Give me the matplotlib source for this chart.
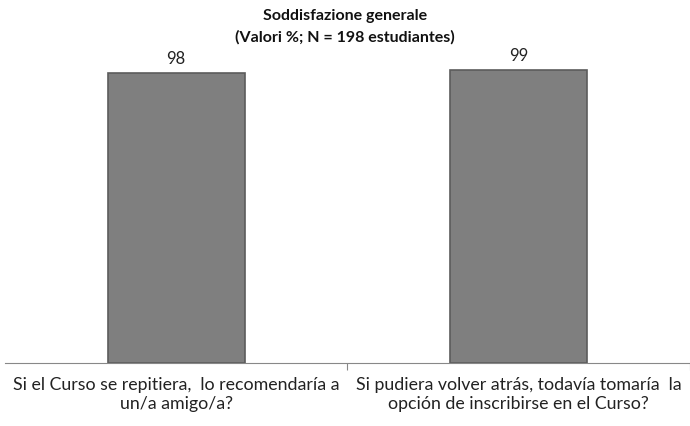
import matplotlib
matplotlib.use("Agg")
import matplotlib.pyplot as plt

categories = ["Si el Curso se repitiera,  lo recomendaría a\nun/a amigo/a?",
              "Si pudiera volver atrás, todavía tomaría  la\nopción de inscribirse en el Curso?"]
values = [98, 99]
title = "Soddisfazione generale\n(Valori %; N = 198 estudiantes)"

plt.rcParams['font.family'] = ['Lato', 'DejaVu Sans']

fig = plt.figure(figsize=(6.9, 4.27), dpi=100)
ax = fig.add_axes([0.0072, 0.1475, 0.9928, 0.6932])
x = list(range(len(values)))
bars = ax.bar(x, values, width=0.40, color='#7f7f7f', edgecolor='#5c5c5c', linewidth=1.2)
for xi, v in zip(x, values):
    ax.text(xi, v + 2.5, f"{v}", ha='center', va='bottom', fontsize=12, color='#222222')
ax.set_xlim(-0.5, 1.5)
ax.set_ylim(0, 100)
for s in ['top', 'right', 'left']:
    ax.spines[s].set_visible(False)
ax.spines['bottom'].set_color('#888888')
ax.set_yticks([])
ax.set_xticks([0.5, 1.5], minor=False)
ax.set_xticklabels([])
ax.tick_params(axis='x', length=5, color='#888888')
ax.set_xticks(x, minor=True)
ax.set_xticklabels(categories, minor=True, fontsize=12.8, color='#222222', linespacing=1.3)
ax.tick_params(axis='x', which='minor', length=0, pad=9)
fig.text(0.5, 0.978, title, ha='center', va='top', fontsize=11.5, fontweight='bold', color='#111111', linespacing=1.6)
fig.savefig("out.png", dpi=100)
